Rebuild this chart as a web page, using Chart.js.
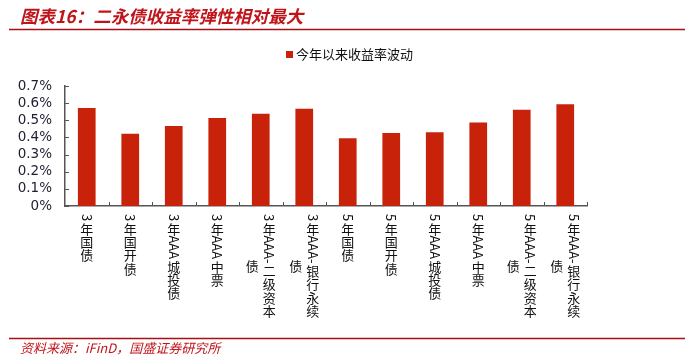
<!DOCTYPE html>
<html>
<head>
    <meta charset="utf-8">
    <title>二永债收益率弹性</title>
    <script src="https://cdn.jsdelivr.net/npm/chart.js"></script>
    <style>
        body { margin: 0; background: #fff; }
        #wrap { width: 685px; height: 363px; position: relative; }
    </style>
</head>
<body>
    <div id="wrap"><canvas id="yield-chart"></canvas></div>
    <script>
        const categories = ['3年国债', '3年国开债', '3年AAA城投债', '3年AAA中票', '3年AAA-二级资本债', '3年AAA-银行永续债',
            '5年国债', '5年国开债', '5年AAA城投债', '5年AAA中票', '5年AAA-二级资本债', '5年AAA-银行永续债'];
        const seriesName = '今年以来收益率波动';
        // 单位：%
        const values = [0.571, 0.422, 0.467, 0.514, 0.538, 0.567, 0.395, 0.426, 0.430, 0.487, 0.561, 0.594];
        const yMax = 0.7;
        const yStep = 0.1;

        const titleText = '图表16：二永债收益率弹性相对最大';
        const sourceText = '资料来源：iFinD，国盛证券研究所';

        const RED = '#C0141B';
        const BAR = '#C8230A';
        const AXIS = '#555555';
        const CJK = '"Noto Sans CJK SC", sans-serif';

        // 竖排标签：汉字直立，字母数字顺时针旋转
        function drawVertical(ctx, text, cx, top) {
            const pitch = 13.3, maxH = 105, gap = 17;
            const toks = text.match(/[\x00-\x7F]+|[^\x00-\x7F]/g);
            const cols = [[]];
            const hs = [0];
            toks.forEach(t => {
                const ascii = /^[\x00-\x7F]+$/.test(t);
                const th = ascii ? ctx.measureText(t).width + 1 : pitch;
                if (hs[hs.length - 1] + th > maxH && cols[cols.length - 1].length) {
                    cols.push([]);
                    hs.push(0);
                }
                cols[cols.length - 1].push([t, th, ascii]);
                hs[hs.length - 1] += th;
            });
            const mid = top + hs[0] / 2;
            const n = cols.length;
            cols.forEach((col, ci) => {
                const colX = cx + ((n - 1) / 2 - ci) * gap;
                let yy = ci === 0 ? top : mid - hs[ci] / 2;
                col.forEach(([t, th, ascii]) => {
                    if (ascii) {
                        ctx.save();
                        ctx.translate(colX, yy);
                        ctx.rotate(Math.PI / 2);
                        ctx.textAlign = 'left';
                        ctx.textBaseline = 'middle';
                        ctx.fillText(t, 0, 0);
                        ctx.restore();
                    } else {
                        ctx.textAlign = 'center';
                        ctx.textBaseline = 'middle';
                        ctx.fillText(t, colX, yy + th / 2);
                    }
                    yy += th;
                });
            });
        }

        const decor = {
            id: 'decor',
            afterDraw(chart) {
                const ctx = chart.ctx;
                const xs = chart.scales.x, ys = chart.scales.y;
                ctx.save();

                // 标题与横线
                ctx.fillStyle = RED;
                ctx.font = 'italic bold 17.5px ' + CJK;
                ctx.textAlign = 'left';
                ctx.textBaseline = 'middle';
                ctx.fillText(titleText, 20, 16);
                ctx.strokeStyle = '#A80F14';
                ctx.lineWidth = 1.5;
                ctx.beginPath();
                ctx.moveTo(9, 29.5); ctx.lineTo(685, 29.5);
                ctx.moveTo(9, 338.5); ctx.lineTo(685, 338.5);
                ctx.stroke();

                // 资料来源
                ctx.font = 'italic 13px ' + CJK;
                ctx.fillStyle = RED;
                ctx.fillText(sourceText, 20, 348);

                // 图例
                ctx.fillStyle = BAR;
                ctx.fillRect(286, 51, 7, 7);
                ctx.fillStyle = '#111';
                ctx.font = '13px ' + CJK;
                ctx.fillText(seriesName, 296, 54.5);

                // 内向刻度
                ctx.strokeStyle = AXIS;
                ctx.lineWidth = 1;
                ctx.beginPath();
                ys.ticks.forEach((t, i) => {
                    const py = Math.round(ys.getPixelForTick(i)) + 0.5;
                    ctx.moveTo(xs.left, py); ctx.lineTo(xs.left + 4, py);
                });
                const step = (xs.right - xs.left) / categories.length;
                for (let i = 1; i <= categories.length; i++) {
                    const px = Math.round(xs.left + i * step) + 0.5;
                    ctx.moveTo(px, ys.bottom); ctx.lineTo(px, ys.bottom - 4);
                }
                ctx.stroke();

                // 类别标签
                ctx.fillStyle = '#111';
                ctx.font = '13px ' + CJK;
                categories.forEach((c, i) => {
                    drawVertical(ctx, c, xs.getPixelForValue(i), 214);
                });
                ctx.restore();
            }
        };

        new Chart(document.getElementById('yield-chart'), {
            type: 'bar',
            data: {
                labels: categories,
                datasets: [{
                    label: seriesName,
                    data: values,
                    backgroundColor: BAR,
                    borderWidth: 0,
                    barPercentage: 0.407,
                    categoryPercentage: 1.0
                }]
            },
            options: {
                responsive: true,
                maintainAspectRatio: false,
                animation: false,
                layout: { padding: { left: 0, right: 98, top: 86, bottom: 147 } },
                plugins: {
                    legend: { display: false },
                    tooltip: { enabled: false }
                },
                scales: {
                    x: {
                        grid: { display: false, drawTicks: false },
                        border: { color: AXIS, width: 1.5 },
                        ticks: { display: false },
                        afterFit: s => { s.height = 10; }
                    },
                    y: {
                        min: 0,
                        max: yMax,
                        grid: { display: false, drawTicks: false },
                        border: { color: AXIS, width: 1.5 },
                        ticks: {
                            stepSize: yStep,
                            autoSkip: false,
                            padding: 13,
                            color: '#1f1f33',
                            font: { family: '"DejaVu Sans"', size: 13.5 },
                            callback: v => (v === 0 ? '0' : v.toFixed(1)) + '%'
                        },
                        afterFit: s => { s.width = 65; }
                    }
                }
            },
            plugins: [decor]
        });
    </script>
</body>
</html>
